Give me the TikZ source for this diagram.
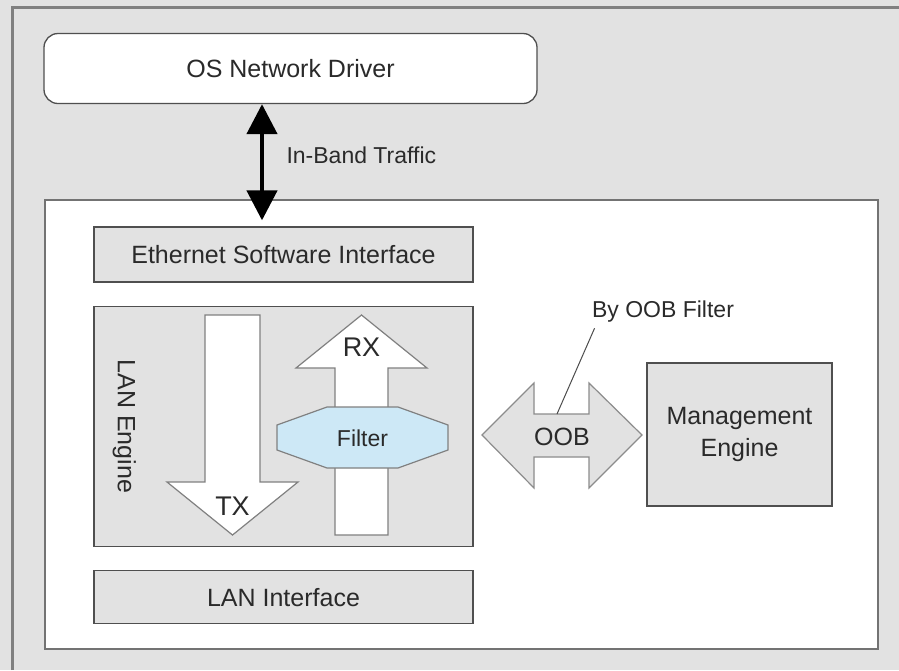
\documentclass[tikz,border=0pt]{standalone}
\usepackage{fontspec}
\setmainfont{Liberation Sans}
\usepackage{xcolor}
\definecolor{fondo}{HTML}{E2E2E2}
\definecolor{borde}{HTML}{4F4F4F}
\definecolor{texto}{HTML}{2A2A2A}
\definecolor{celeste}{HTML}{CDE8F6}
\usetikzlibrary{positioning,arrows.meta}

\begin{document}
\begin{tikzpicture}[
  x=1pt, y=-1pt,
  font=\fontsize{25}{32}\selectfont, text=texto,
  node distance=23pt and 20pt,
  bloque/.style={rectangle, draw=borde, line width=1.3pt, fill=fondo, minimum width=379pt, minimum height=55pt, inner sep=0pt},
  forma/.style={draw=black!50, line width=1.2pt, fill=white, line join=miter},
  etiq/.style={font=\fontsize{23}{28}\selectfont},
  grande/.style={font=\fontsize{27}{32}\selectfont},
  trafico/.style={{Triangle[length=30pt,width=30pt]}-{Triangle[length=30pt,width=30pt]}, line width=4.5pt, draw=black}
]
\useasboundingbox (0,0) rectangle (899,670);
\fill[fondo] (0,0) rectangle (899,670);
\draw[black!50, line width=3pt] (12,670) |- (899,7);

\node[bloque, rounded corners=14pt, fill=white, minimum width=493pt, minimum height=70pt] (os) at (290.5,68.5) {OS Network Driver};
\node[rectangle, draw=black!55, line width=1.6pt, fill=white, minimum width=833pt, minimum height=449pt, inner sep=0pt] (placa) at (461.5,424.5) {};
\node[bloque] (eth) at (283.5,254.5) {Ethernet Software Interface};
\node[bloque, below=of eth, minimum height=240pt] (lan) {};
\node[bloque, below=of lan, minimum height=53pt] (lanif) {LAN Interface};
\node[rotate=-90] (lanlbl) at ([xshift=31pt]lan.west) {LAN Engine};

\draw[trafico, shorten >=6pt] ([xshift=-28.5pt]os.south) -- ([xshift=-21.5pt]eth.north);
\node[etiq, anchor=west] (inband) at (283,155) {In-Band Traffic};

\draw[forma] (205,315) -- (260,315) -- (260,482) -- (298,482) -- (232.5,535) -- (167,482) -- (205,482) -- cycle;
\node[grande] (tx) at (232.5,506) {TX};
\draw[forma] (335,535) -- (388,535) -- (388,368) -- (427,368) -- (361.5,315) -- (296,368) -- (335,368) -- cycle;
\node[grande] (rx) at (361.5,347) {RX};
\draw[forma, fill=celeste] (327,407) -- (398,407) -- (448,425) -- (448,450) -- (398,468) -- (327,468) -- (277,450) -- (277,425) -- cycle;
\node[etiq] (filtro) at (362.5,438) {Filter};

\draw[forma, fill=fondo, draw=black!45] (482,435) -- (534,383) -- (534,414) -- (589,414) -- (589,383) -- (642,435) -- (589,488) -- (589,457) -- (534,457) -- (534,488) -- cycle;
\node (oob) at (562,437) {OOB};
\coordinate (oobtop) at (557,414);
\node[etiq] (byoob) at (663,312) {By OOB Filter};
\draw[black!70, line width=1pt] ([xshift=6pt,yshift=-2pt]byoob.south west) -- (oobtop);

\node[bloque, minimum width=185pt, minimum height=143pt, align=center] (mgmt) at (739.5,434.5) {Management\\Engine};
\end{tikzpicture}
\end{document}
